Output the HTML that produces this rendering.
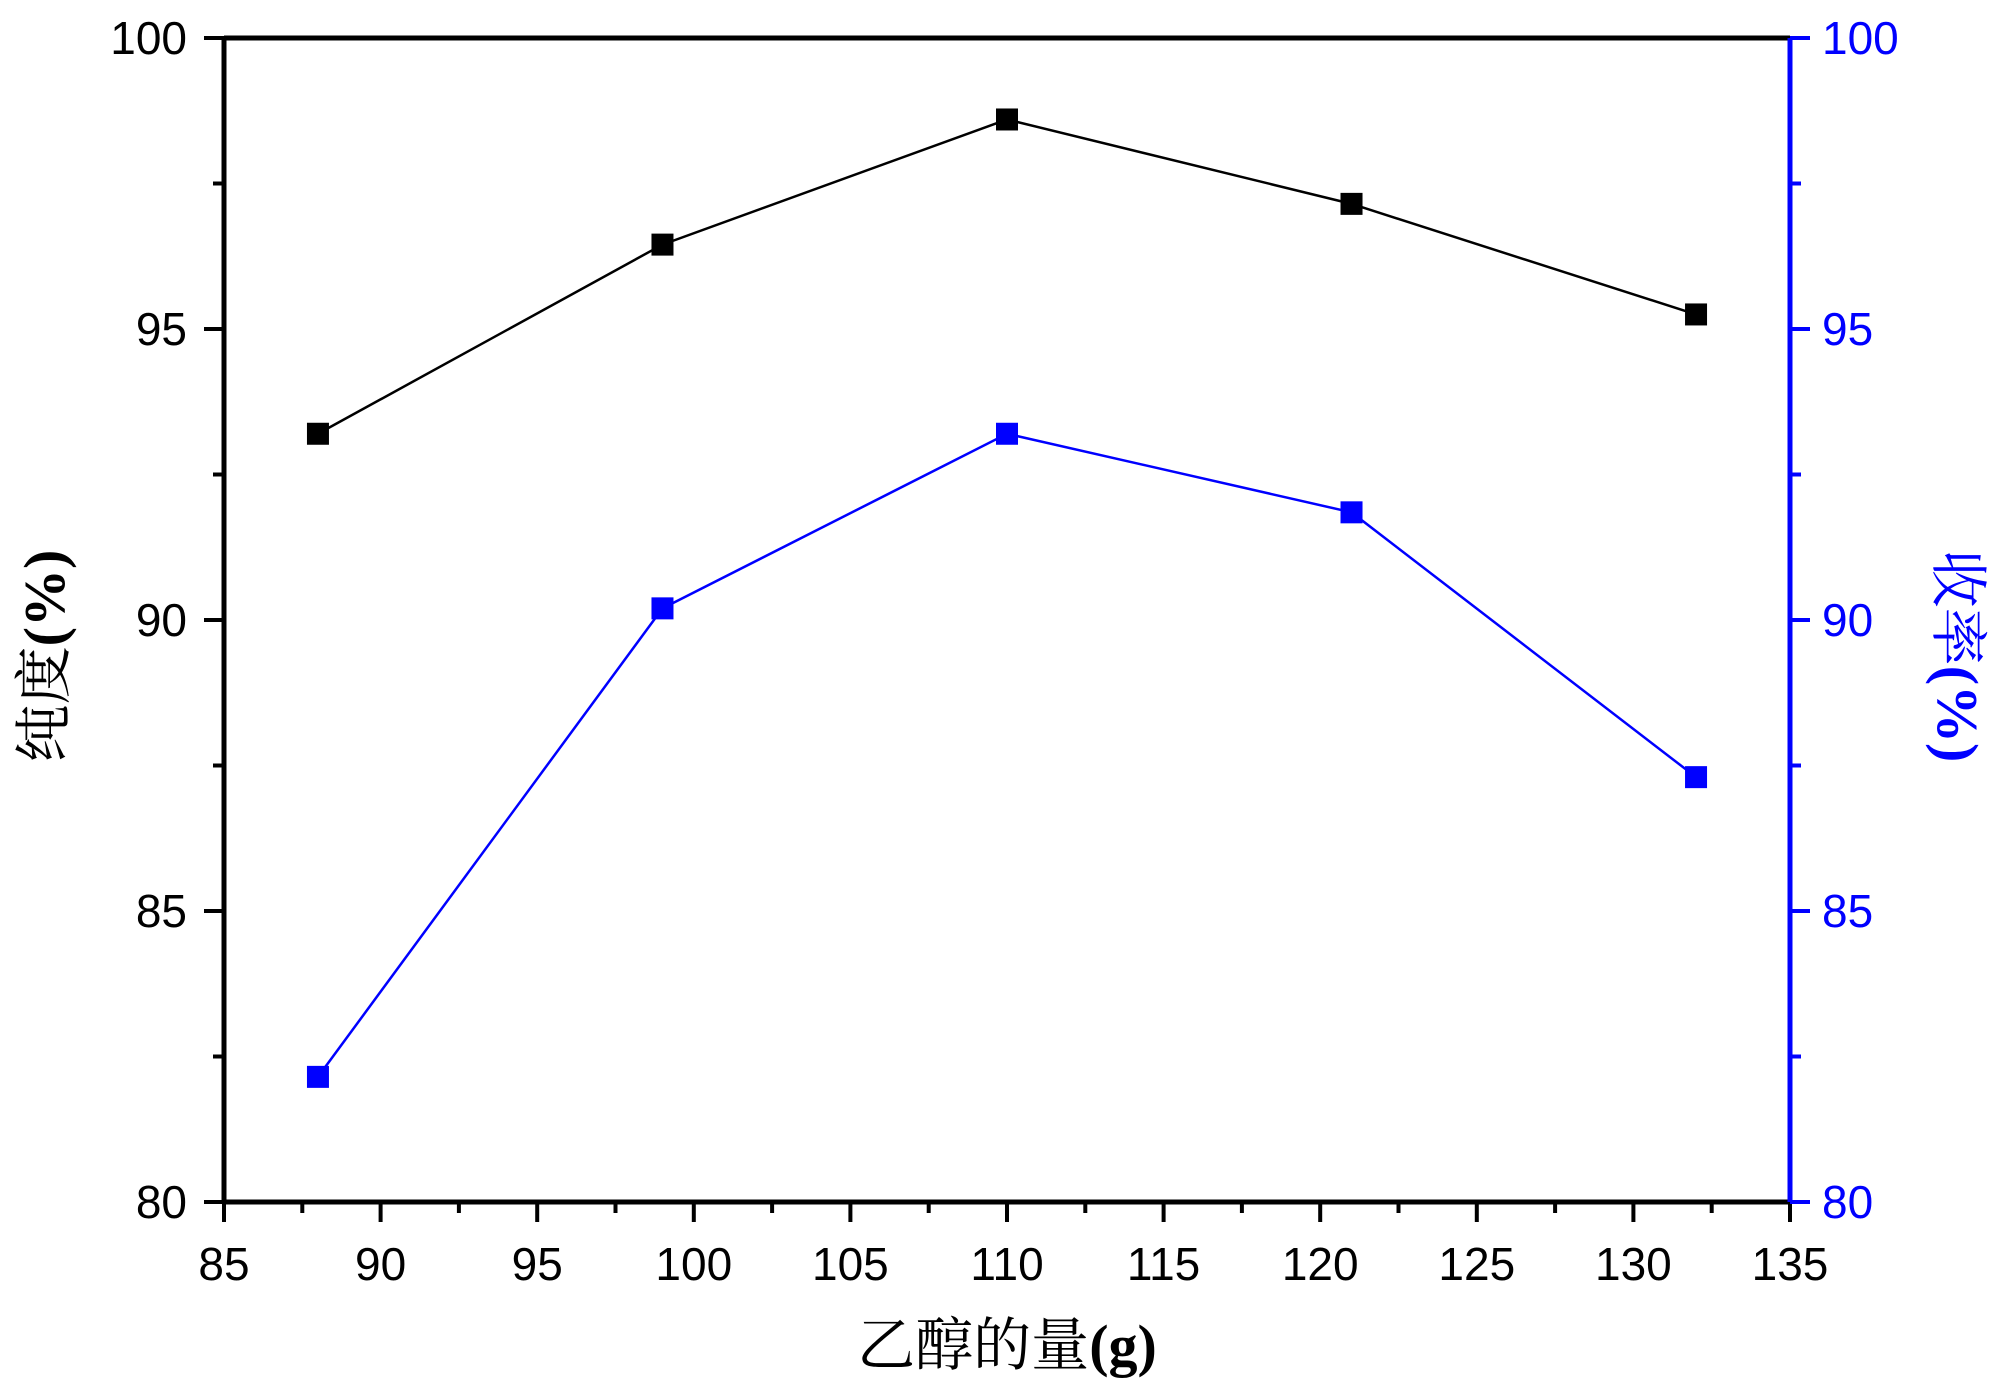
<!DOCTYPE html>
<html><head><meta charset="utf-8"><style>
html,body{margin:0;padding:0;background:#fff;}
svg{display:block;}
</style></head><body>
<svg id="chart" width="2000" height="1391" viewBox="0 0 2000 1391" xmlns="http://www.w3.org/2000/svg">
<g id="axes"></g>
<g id="marks"></g>
<text x="1007" y="1365" text-anchor="middle" font-family="'Liberation Serif','Noto Serif CJK SC',serif" font-size="58"><tspan>乙醇的量</tspan><tspan font-weight="bold">(g)</tspan></text>
<text transform="translate(64,656) rotate(-90)" text-anchor="middle" font-family="'Liberation Serif','Noto Serif CJK SC',serif" font-size="58"><tspan>纯度</tspan><tspan font-weight="bold">(%)</tspan></text>
<text transform="translate(1938,656) rotate(90)" text-anchor="middle" fill="#0000ff" font-family="'Liberation Serif','Noto Serif CJK SC',serif" font-size="58"><tspan>收率</tspan><tspan font-weight="bold">(%)</tspan></text>
</svg>
<script>
const xValues = [88, 99, 110, 121, 132];
const purity = [93.2, 96.45, 98.6, 97.15, 95.25];
const yieldVals = [82.15, 90.2, 93.2, 91.85, 87.3];
const xTicks = ['85','90','95','100','105','110','115','120','125','130','135'];
const yTicks = ['80','85','90','95','100'];

const L=224,R=1790,T=38,B=1202;
const xs=v=>L+(v-85)/(135-85)*(R-L);
const ys=v=>B-(v-80)/(100-80)*(B-T);
const NS='http://www.w3.org/2000/svg';
const axes=document.getElementById('axes'), marks=document.getElementById('marks');
function mk(tag,attrs,parent){const e=document.createElementNS(NS,tag);for(const k in attrs)e.setAttribute(k,attrs[k]);parent.appendChild(e);return e;}

let e;
e=mk('line',{x1:L,y1:T,x2:R,y2:T,stroke:'#000','stroke-width':5},axes);


e=mk('line',{x1:L,y1:B,x2:R,y2:B,stroke:'#000','stroke-width':5},axes);


e=mk('line',{x1:L,y1:T,x2:L,y2:B,stroke:'#000','stroke-width':5},axes);


e=mk('line',{x1:R,y1:T,x2:R,y2:B,stroke:'#0000ff','stroke-width':5},axes);



const font="'Liberation Sans',Arial,sans-serif";
xTicks.forEach((t,i)=>{
  const v=parseFloat(t), x=xs(v);
  e=mk('line',{x1:x,y1:B,x2:x,y2:B+20,stroke:'#000','stroke-width':4},axes);
  
  
  if(i<xTicks.length-1){
    const xm=xs(v+2.5);
    e=mk('line',{x1:xm,y1:B,x2:xm,y2:B+11,stroke:'#000','stroke-width':4},axes);
    
    
  }
  e=mk('text',{x:x,y:1280,'text-anchor':'middle','font-family':font,'font-size':46},axes);
  e.textContent=t;
  
  
});
yTicks.forEach((t,i)=>{
  const v=parseFloat(t), y=ys(v);
  e=mk('line',{x1:L-20,y1:y,x2:L,y2:y,stroke:'#000','stroke-width':4},axes);
  
  
  e=mk('line',{x1:R,y1:y,x2:R+20,y2:y,stroke:'#0000ff','stroke-width':4},axes);
  
  
  if(i<yTicks.length-1){
    const ym=ys(v+2.5);
    e=mk('line',{x1:L-11,y1:ym,x2:L,y2:ym,stroke:'#000','stroke-width':4},axes);
    
    
    e=mk('line',{x1:R,y1:ym,x2:R+11,y2:ym,stroke:'#0000ff','stroke-width':4},axes);
    
    
  }
  e=mk('text',{x:187,y:y+16,'text-anchor':'end','font-family':font,'font-size':46},axes);
  e.textContent=t;
  
  
  e=mk('text',{x:1822,y:y+16,'text-anchor':'start','font-family':font,'font-size':46,fill:'#0000ff'},axes);
  e.textContent=t;
  
  
});

function series(vals,color,name){
  const pts=xValues.map((x,i)=>xs(x)+','+ys(vals[i])).join(' ');
  e=mk('polyline',{points:pts,fill:'none',stroke:color,'stroke-width':2.5},marks);
  
  
  xValues.forEach((x,i)=>{
    e=mk('rect',{x:xs(x)-11,y:ys(vals[i])-11,width:22,height:22,fill:color},marks);
    
    
  });
}
series(purity,'#000000','purity');
series(yieldVals,'#0000ff','yield');
</script>
</body></html>
